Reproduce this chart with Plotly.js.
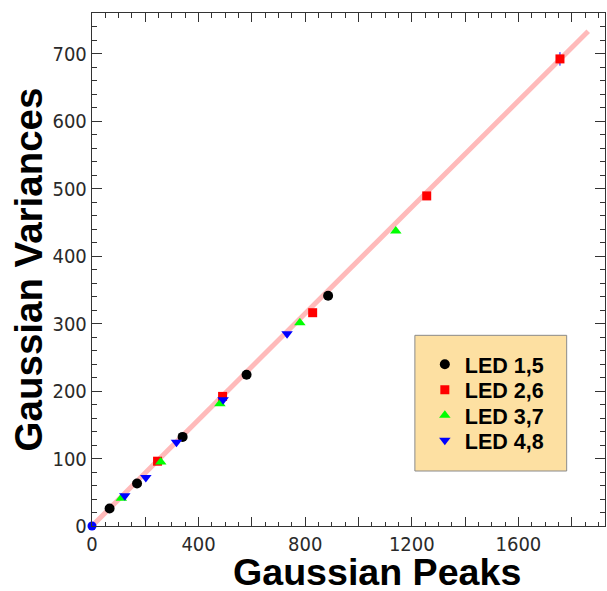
<!DOCTYPE html>
<html>
<head>
<meta charset="utf-8">
<script src="https://cdn.plot.ly/plotly-3.0.1.min.js"></script>
<style>
  html, body { margin: 0; padding: 0; background: #ffffff; }
  #chart { width: 607px; height: 591px; }
</style>
</head>
<body>
<div id="chart"></div>
<script>
// Gaussian peak position vs. fitted variance, per LED pair
const led15Peaks = [66, 169, 340, 580, 886];
const led15Vars  = [26, 63, 132, 224, 341];

const led26Peaks = [246, 490, 828, 1256, 1756];
const led26Vars  = [96, 192, 316, 489, 692];
const led26Err   = [0, 0, 0, 0, 10];

const led37Peaks = [110, 258, 480, 780, 1140];
const led37Vars  = [41, 95, 181, 301, 437];

const led48Peaks = [123, 202, 317, 492, 732];
const led48Vars  = [45, 72, 124, 187, 285];

// pedestal point at the origin
const pedestalPeak = [0];
const pedestalVar  = [0];

// linear fit through the points
const fitPeaks = [0, 1862];
const fitVars  = [0, 733];

// axis ticks
const xTickVals = [0, 200, 400, 600, 800, 1000, 1200, 1400, 1600, 1800];
const xTickText = ['0', '', '400', '', '800', '', '1200', '', '1600', ''];
const yTickVals = [0, 100, 200, 300, 400, 500, 600, 700];
const yTickText = ['0', '100', '200', '300', '400', '500', '600', '700'];

const tickFont = { family: '"Liberation Sans Narrow", "Arial Narrow", "DejaVu Sans Condensed", sans-serif', size: 20, color: '#2a2a2a' };
const boldFont = '"Liberation Sans", Arial, Helvetica, sans-serif';

const markerSize = 9;

const traces = [
  {
    x: fitPeaks, y: fitVars, mode: 'lines', type: 'scatter',
    line: { color: '#ffbaba', width: 5 },
    showlegend: false, hoverinfo: 'skip'
  },
  {
    x: led15Peaks, y: led15Vars, mode: 'markers', type: 'scatter', name: 'LED 1,5',
    marker: { symbol: 'circle', color: '#000000', size: markerSize + 1 },
    cliponaxis: false, legend: 'legend'
  },
  {
    x: led26Peaks, y: led26Vars, mode: 'markers', type: 'scatter', name: 'LED 2,6',
    marker: { symbol: 'square', color: '#ff0000', size: markerSize },
    error_y: { type: 'data', array: led26Err, color: '#0000ff', thickness: 1, width: 0 },
    cliponaxis: false, legend: 'legend2'
  },
  {
    x: led37Peaks, y: led37Vars, mode: 'markers', type: 'scatter', name: 'LED 3,7',
    marker: { symbol: 'triangle-up', color: '#00ff00', size: markerSize + 1 },
    cliponaxis: false, legend: 'legend3'
  },
  {
    x: led48Peaks, y: led48Vars, mode: 'markers', type: 'scatter', name: 'LED 4,8',
    marker: { symbol: 'triangle-down', color: '#0000ff', size: markerSize + 1 },
    cliponaxis: false, legend: 'legend4'
  },
  {
    x: pedestalPeak, y: pedestalVar, mode: 'markers', type: 'scatter',
    marker: { symbol: 'circle', color: '#0000ff', size: 9 },
    showlegend: false, cliponaxis: false
  }
];

const axisCommon = {
  showgrid: false, zeroline: false,
  showline: true, linecolor: '#333333', linewidth: 1.2,
  mirror: 'allticks', ticks: 'inside', tickcolor: '#333333', tickwidth: 1,
  tickfont: tickFont
};

// one legend per row so the rows sit on a tight pitch inside the key box
function legendRow(yPaper) {
  return {
    x: 0.6488, y: yPaper, xanchor: 'left', yanchor: 'middle',
    bgcolor: 'rgba(0,0,0,0)', borderwidth: 0,
    font: { family: boldFont, size: 21.5, color: '#000000', weight: 'bold' }
  };
}

const layout = {
  width: 607, height: 591,
  margin: { l: 92, r: 2, t: 13, b: 65 },
  paper_bgcolor: '#ffffff', plot_bgcolor: '#ffffff',
  xaxis: Object.assign({}, axisCommon, {
    range: [0, 1925],
    tickmode: 'array', tickvals: xTickVals, ticktext: xTickText,
    ticklen: 9,
    minor: { tickmode: 'linear', tick0: 0, dtick: 50, ticklen: 4.5, ticks: 'inside', tickcolor: '#333333', tickwidth: 1 }
  }),
  yaxis: Object.assign({}, axisCommon, {
    range: [0, 760],
    tickmode: 'array', tickvals: yTickVals, ticktext: yTickText,
    ticklen: 10,
    minor: { tickmode: 'linear', tick0: 0, dtick: 20, ticklen: 5, ticks: 'inside', tickcolor: '#333333', tickwidth: 1 }
  }),
  shapes: [{
    type: 'rect', xref: 'paper', yref: 'paper',
    x0: 0.6294, x1: 0.9253, y0: 0.1072, y1: 0.3717,
    fillcolor: '#fde0a2', line: { color: '#8a8a8a', width: 1 }, layer: 'below'
  }],
  legend: legendRow(0.3152),
  legend2: legendRow(0.2655),
  legend3: legendRow(0.2158),
  legend4: legendRow(0.1670),
  annotations: [
    {
      text: '<b>Gaussian Peaks</b>', xref: 'paper', yref: 'paper',
      x: 0.5547, y: -0.090, xanchor: 'center', yanchor: 'middle', showarrow: false,
      font: { family: boldFont, size: 37.6, color: '#000000' }
    },
    {
      text: '<b>Gaussian Variances</b>', xref: 'paper', yref: 'paper',
      x: -0.123, y: 0.5, xanchor: 'center', yanchor: 'middle', showarrow: false, textangle: -90,
      font: { family: boldFont, size: 38.5, color: '#000000' }
    }
  ]
};

Plotly.newPlot('chart', traces, layout, { displayModeBar: false, staticPlot: true });
</script>
</body>
</html>
